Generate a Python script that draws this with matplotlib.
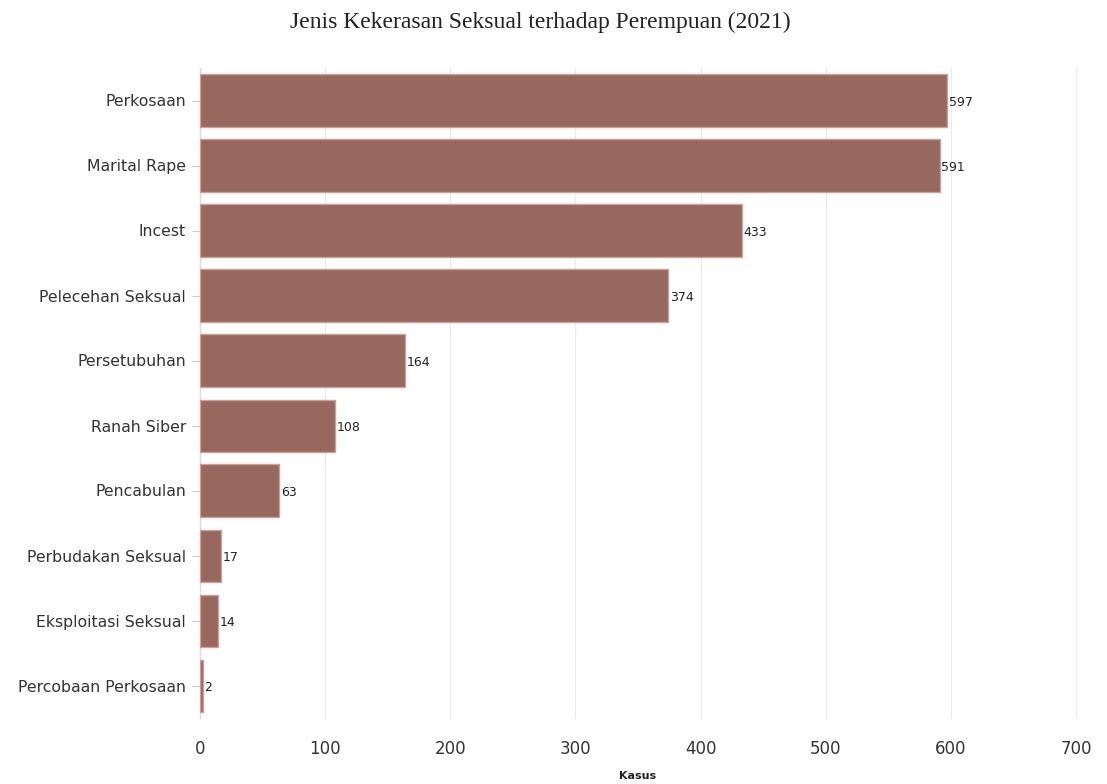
import matplotlib
matplotlib.use("Agg")
import matplotlib.pyplot as plt

plt.rcParams["font.family"] = ["DejaVu Sans"]

categories = ["Perkosaan", "Marital Rape", "Incest", "Pelecehan Seksual", "Persetubuhan",
              "Ranah Siber", "Pencabulan", "Perbudakan Seksual", "Eksploitasi Seksual",
              "Percobaan Perkosaan"]
values = [597, 591, 433, 374, 164, 108, 63, 17, 14, 2]
xticks = [0, 100, 200, 300, 400, 500, 600, 700]

fig = plt.figure(figsize=(11.07, 7.84), dpi=100)
ax = fig.add_axes([200/1107, 1-718/784, 876/1107, 650/784])

ypos = list(range(len(categories)))[::-1]
ax.barh(ypos, values, height=0.8, color="#98675e", edgecolor="#c9a09a", linewidth=1, zorder=3)
for y, v in zip(ypos, values):
    ax.text(v + 1.5, y - 0.03, str(v), va="center", ha="left", fontsize=9, color="#222222",
            zorder=4)

ax.set_xlim(0, 700)
ax.set_ylim(-0.5, 9.5)
ax.set_yticks(ypos)
ax.set_yticklabels(categories, fontsize=11.3, color="#333333")
ax.set_xticks(xticks)
ax.set_xticklabels([str(t) for t in xticks], fontsize=12, color="#333333")
ax.grid(axis="x", color="#ebebeb", linewidth=0.8, zorder=0)
for gl in ax.get_xgridlines():
    gl.set_clip_on(False)
for s in ["top", "right", "bottom"]:
    ax.spines[s].set_visible(False)
ax.spines["left"].set_color("#dddddd")
ax.spines["left"].set_linewidth(1.0)
ax.tick_params(axis="y", length=6, color="#cccccc", pad=4)
ax.tick_params(axis="x", length=0, pad=16)

fig.text(540/1107, 1-22/784, "Jenis Kekerasan Seksual terhadap Perempuan (2021)",
         ha="center", va="center", fontsize=17, family="Liberation Serif", color="#222222")
fig.text(638/1107, 1-776/784, "Kasus", ha="center", va="center", fontsize=8,
         fontweight="bold", color="#222222")

fig.savefig("out.png", dpi=100, facecolor="white")
